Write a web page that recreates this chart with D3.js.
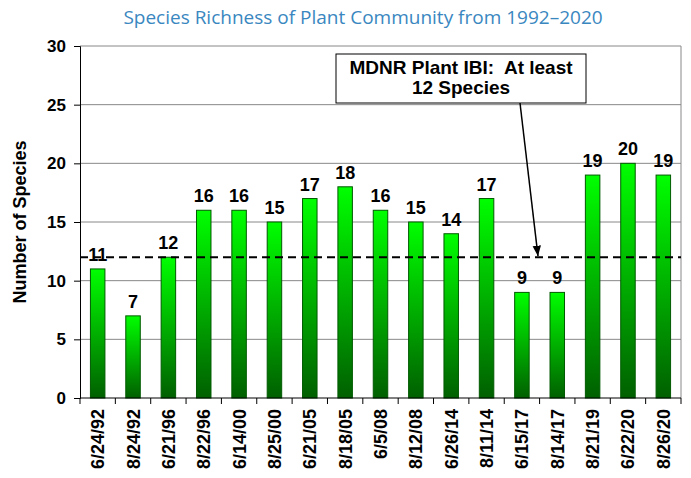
<!DOCTYPE html>
<html>
<head>
<meta charset="utf-8">
<script src="https://cdn.jsdelivr.net/npm/d3@7"></script>
<style>
  body { margin: 0; background: #fff; }
  svg text { font-family: "Liberation Sans", Arial, sans-serif; }
</style>
</head>
<body>
<div id="chart"></div>
<script>
// survey dates and species counts
var dates = ["6/24/92", "8/24/92", "6/21/96", "8/22/96", "6/14/00", "8/25/00", "6/21/05", "8/18/05",
  "6/5/08", "8/12/08", "6/26/14", "8/11/14", "6/15/17", "8/14/17", "8/21/19", "6/22/20", "8/26/20"];
var species = [11, 7, 12, 16, 16, 15, 17, 18, 16, 15, 14, 17, 9, 9, 19, 20, 19];
var yTicks = [0, 5, 10, 15, 20, 25, 30];
var threshold = 12;

var width = 691, height = 478;
var margin = {top: 46, right: 10, bottom: 80, left: 80};
var plotW = 681 - margin.left, plotH = 398 - margin.top;

var svg = d3.select("#chart").append("svg").attr("width", width).attr("height", height);

var defs = svg.append("defs");
var grad = defs.append("linearGradient").attr("id", "barGrad")
  .attr("x1", 0).attr("y1", 0).attr("x2", 0).attr("y2", 1);
grad.append("stop").attr("offset", "0%").attr("stop-color", "#00ff00");
grad.append("stop").attr("offset", "100%").attr("stop-color", "#006000");
defs.append("marker").attr("id", "arrow")
  .attr("viewBox", "0 -5 10 10").attr("refX", 10).attr("refY", 0)
  .attr("markerWidth", 7).attr("markerHeight", 7).attr("orient", "auto")
  .append("path").attr("d", "M0,-4L10,0L0,4Z").attr("fill", "#000");

svg.append("text").attr("x", 363).attr("y", 24).attr("text-anchor", "middle")
  .style("font-family", "'Open Sans', sans-serif").style("font-size", "19px")
  .attr("fill", "#3a87bf").text("Species Richness of Plant Community from 1992\u20132020");

var g = svg.append("g").attr("transform", "translate(" + margin.left + "," + margin.top + ")");

var x = d3.scaleBand().domain(dates).range([0, plotW]).paddingInner(0.59).paddingOuter(0.295);
var xEdge = d3.scaleLinear().domain([0, dates.length]).range([0, plotW]);
var y = d3.scaleLinear().domain([0, 30]).range([plotH, 0]);

// gridlines
g.append("g").selectAll("line").data(yTicks.slice(1)).enter().append("line")
  .attr("x1", 0).attr("x2", plotW).attr("y1", y).attr("y2", y)
  .attr("stroke", "#888").attr("stroke-width", 1);
g.append("line").attr("x1", plotW).attr("x2", plotW).attr("y1", 0).attr("y2", plotH)
  .attr("stroke", "#888");

// y axis
var yAxis = g.append("g").call(d3.axisLeft(y).tickValues(yTicks).tickSize(6).tickPadding(8));
yAxis.select(".domain").attr("stroke", "#000");
yAxis.selectAll("text").style("font-size", "17px").style("font-weight", "bold").attr("fill", "#000")
  .style("font-family", "'Liberation Sans', Arial, sans-serif");

svg.append("text").attr("transform", "translate(26," + (margin.top + plotH / 2) + ") rotate(-90)")
  .attr("text-anchor", "middle").style("font-size", "18px").style("font-weight", "bold")
  .text("Number of Species");

// bars
g.append("g").selectAll("rect").data(species).enter().append("rect")
  .attr("x", function(d, i) { return x(dates[i]); })
  .attr("y", function(d) { return y(d); })
  .attr("width", x.bandwidth())
  .attr("height", function(d) { return plotH - y(d); })
  .attr("fill", "url(#barGrad)").attr("stroke", "#005a00").attr("stroke-width", 1);

g.append("g").selectAll("text").data(species).enter().append("text")
  .attr("x", function(d, i) { return x(dates[i]) + x.bandwidth() / 2; })
  .attr("y", function(d) { return y(d) - 8; })
  .attr("text-anchor", "middle").style("font-size", "18px").style("font-weight", "bold")
  .text(function(d) { return d; });

// x axis
g.append("line").attr("x1", 0).attr("x2", plotW).attr("y1", plotH).attr("y2", plotH).attr("stroke", "#000");
g.append("g").selectAll("line").data(d3.range(dates.length + 1)).enter().append("line")
  .attr("x1", xEdge).attr("x2", xEdge).attr("y1", plotH).attr("y2", plotH + 6).attr("stroke", "#000");
g.append("g").selectAll("text").data(dates).enter().append("text")
  .attr("transform", function(d) { return "translate(" + (x(d) + x.bandwidth() / 2 + 6.5) + "," + (plotH + 11) + ") rotate(-90)"; })
  .attr("text-anchor", "end").style("font-size", "18px").style("font-weight", "bold")
  .text(function(d) { return d; });

// threshold line
g.append("line").attr("x1", 0).attr("x2", plotW).attr("y1", y(threshold)).attr("y2", y(threshold))
  .attr("stroke", "#000").attr("stroke-width", 2).attr("stroke-dasharray", "8,5");

// annotation box
var bx = 336 - margin.left, by = 54 - margin.top, bw = 250, bh = 49;
g.append("rect").attr("x", bx).attr("y", by).attr("width", bw).attr("height", bh)
  .attr("fill", "#fff").attr("stroke", "#000").attr("stroke-width", 1);
g.append("text").attr("x", bx + bw / 2).attr("y", by + 20).attr("text-anchor", "middle")
  .style("font-size", "19px").style("font-weight", "bold").attr("xml:space", "preserve")
  .text("MDNR Plant IBI:  At least");
g.append("text").attr("x", bx + bw / 2).attr("y", by + 40).attr("text-anchor", "middle")
  .style("font-size", "19px").style("font-weight", "bold").text("12 Species");
g.append("line").attr("x1", 520 - margin.left).attr("y1", by + bh)
  .attr("x2", 538 - margin.left).attr("y2", y(threshold) - 1)
  .attr("stroke", "#000").attr("stroke-width", 1.5).attr("marker-end", "url(#arrow)");
</script>
</body>
</html>
